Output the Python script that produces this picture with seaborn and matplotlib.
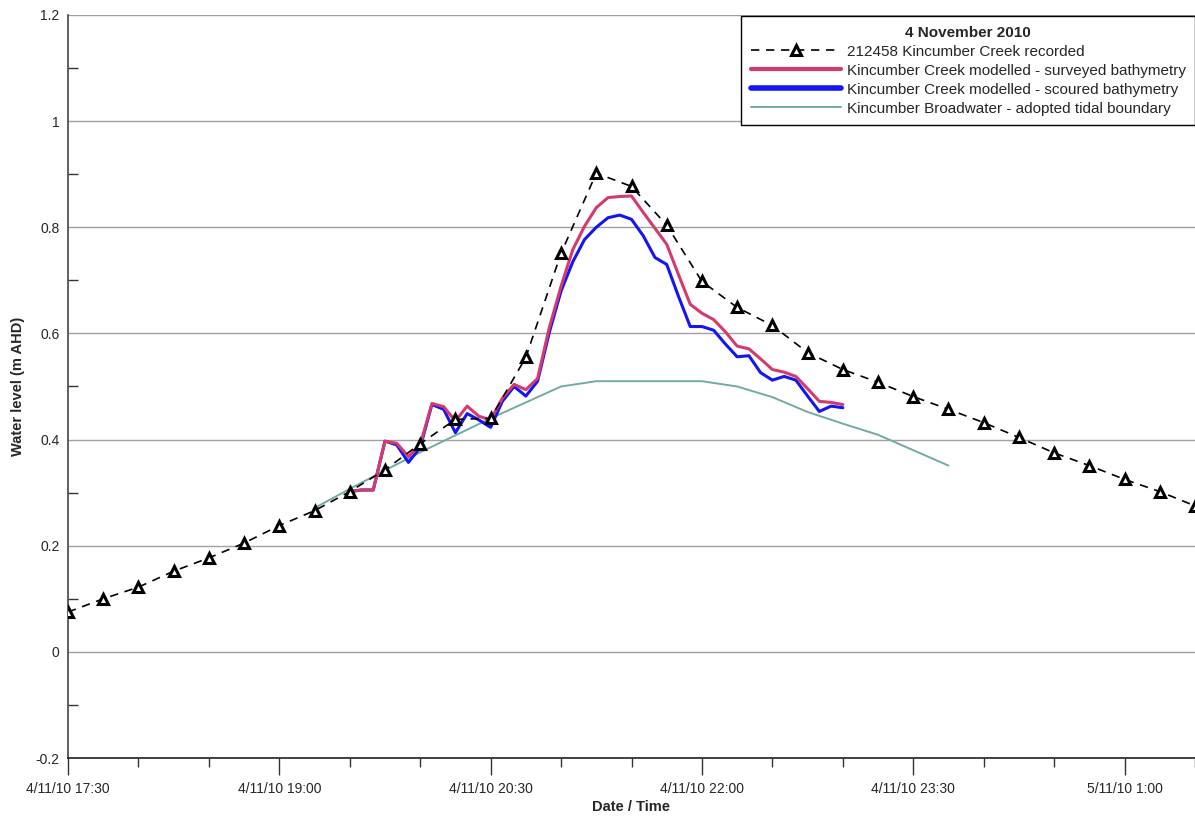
import numpy as np
import pandas as pd
import matplotlib
matplotlib.use("Agg")
import matplotlib.pyplot as plt
import matplotlib.dates as mdates
from matplotlib.ticker import FuncFormatter, MultipleLocator, FixedLocator
import seaborn as sns

# ---------------- data ----------------
recorded_start = "2010-11-04 17:30"
recorded_level = [0.075, 0.100, 0.122, 0.152, 0.177, 0.205, 0.238, 0.266, 0.302, 0.343,
                  0.392, 0.438, 0.440, 0.555, 0.751, 0.902, 0.877, 0.804, 0.698, 0.649,
                  0.615, 0.564, 0.532, 0.508, 0.481, 0.457, 0.432, 0.404, 0.375, 0.351,
                  0.325, 0.302, 0.275]

model_start = "2010-11-04 19:30"
surveyed_level = [0.302, 0.305, 0.305, 0.397, 0.393, 0.368, 0.390, 0.468, 0.462, 0.435,
                  0.463, 0.444, 0.437, 0.478, 0.504, 0.494, 0.515, 0.611, 0.689, 0.758,
                  0.802, 0.837, 0.856, 0.858, 0.859, 0.828, 0.798, 0.768, 0.711, 0.655,
                  0.638, 0.626, 0.603, 0.576, 0.571, 0.552, 0.532, 0.527, 0.519, 0.496,
                  0.472, 0.470, 0.466]
scoured_level = [0.302, 0.305, 0.305, 0.397, 0.390, 0.357, 0.385, 0.466, 0.457, 0.413,
                 0.449, 0.437, 0.423, 0.472, 0.500, 0.482, 0.510, 0.602, 0.680, 0.735,
                 0.777, 0.800, 0.818, 0.823, 0.815, 0.784, 0.743, 0.730, 0.670, 0.613,
                 0.613, 0.606, 0.580, 0.556, 0.558, 0.526, 0.512, 0.519, 0.512, 0.482,
                 0.453, 0.463, 0.460]

tidal_start = "2010-11-04 19:15"
tidal_level = [0.271, 0.307, 0.342, 0.376, 0.408, 0.440, 0.470, 0.500, 0.510, 0.510,
               0.510, 0.510, 0.500, 0.480, 0.452, 0.430, 0.409, 0.380, 0.351]

major_ticks = ["2010-11-04 17:30", "2010-11-04 19:00", "2010-11-04 20:30",
               "2010-11-04 22:00", "2010-11-04 23:30", "2010-11-05 01:00"]
x_min, x_max = "2010-11-04 17:30", "2010-11-05 01:30"

labels = ["212458 Kincumber Creek recorded",
          "Kincumber Creek modelled - surveyed bathymetry",
          "Kincumber Creek modelled - scoured bathymetry",
          "Kincumber Broadwater - adopted tidal boundary"]

rec_t = pd.date_range(recorded_start, periods=len(recorded_level), freq="15min")
mod_t = pd.date_range(model_start, periods=len(surveyed_level), freq="5min")
tid_t = pd.date_range(tidal_start, periods=len(tidal_level), freq="15min")

C_TIDE, C_SCOUR, C_SURV = "#72AAA4", "#1414F5", "#D43A6B"

# ---------------- plot ----------------
sns.set_theme(style="white")
plt.rcParams["font.family"] = ["Liberation Sans", "DejaVu Sans"]

fig = plt.figure(figsize=(11.95, 8.16), dpi=100)
ax = fig.add_axes([68 / 1195, 58 / 816, 1127 / 1195, 743 / 816])

for yv in np.arange(-0.2, 1.21, 0.2):
    ax.axhline(yv, color="#A0A0A0", lw=1.0, zorder=0)

sns.lineplot(x=tid_t, y=tidal_level, ax=ax, color=C_TIDE, lw=1.4,
             label=labels[3], zorder=2)
sns.lineplot(x=mod_t, y=scoured_level, ax=ax, color=C_SCOUR, lw=2.2,
             label=labels[2], zorder=3)
sns.lineplot(x=mod_t, y=surveyed_level, ax=ax, color=C_SURV, lw=2.2,
             label=labels[1], zorder=4)
sns.lineplot(x=rec_t, y=recorded_level, ax=ax, color="black", lw=1.2,
             ls=(0, (5, 4)), marker="^", markersize=7.5, markerfacecolor="white",
             markeredgecolor="black", markeredgewidth=2.2,
             label=labels[0], zorder=5)

ax.set_xlim(pd.Timestamp(x_min), pd.Timestamp(x_max))
ax.set_ylim(-0.2, 1.2)

ax.xaxis.set_major_locator(FixedLocator(mdates.date2num(pd.to_datetime(major_ticks))))
ax.xaxis.set_minor_locator(FixedLocator(mdates.date2num(
    pd.date_range(x_min, x_max, freq="30min"))))


def fmt_date(v, pos=None):
    d = mdates.num2date(v)
    return f"{d.day}/{d.month}/{d:%y} {d.hour}:{d:%M}"


ax.xaxis.set_major_formatter(FuncFormatter(fmt_date))
ax.yaxis.set_major_locator(MultipleLocator(0.2))
ax.yaxis.set_minor_locator(FixedLocator(np.arange(-0.1, 1.2, 0.2)))
ax.yaxis.set_major_formatter(FuncFormatter(lambda v, p: f"{round(v, 1):g}"))

ax.tick_params(axis="x", which="major", direction="out", length=12, width=1,
               color="#333333", labelsize=10, pad=5, bottom=True)
ax.tick_params(axis="x", which="minor", direction="out", length=6.5, width=1,
               color="#333333", bottom=True)
ax.tick_params(axis="y", which="major", length=0, labelsize=10, pad=6, left=True)
ax.tick_params(axis="y", which="minor", direction="in", length=7, width=1,
               color="#333333", left=True)

for s in ["top", "right"]:
    ax.spines[s].set_visible(False)
ax.spines["left"].set_color("#444444")
ax.spines["bottom"].set_color("#222222")
ax.spines["left"].set_linewidth(1.2)
ax.spines["bottom"].set_linewidth(1.2)

ax.set_xlabel("Date / Time", fontsize=10.5, fontweight="bold", labelpad=3)
ax.set_ylabel("Water level (m AHD)", fontsize=10.5, fontweight="bold", labelpad=8)

handles, labs = ax.get_legend_handles_labels()
order = [labs.index(l) for l in labels]
leg = ax.legend([handles[i] for i in order], [labs[i] for i in order],
                title="4 November 2010", loc="upper right",
                bbox_to_anchor=(1.0, 0.998), fontsize=11, title_fontsize=11,
                frameon=True, fancybox=False, edgecolor="black",
                handlelength=5.9, handletextpad=0.4, borderpad=0.6,
                labelspacing=0.33, borderaxespad=0.0)
leg.get_title().set_fontweight("bold")
leg.get_frame().set_linewidth(1.0)
leg.get_frame().set_alpha(1.0)
for line in leg.get_lines():
    if line.get_color() == C_SCOUR:
        line.set_linewidth(4)
    elif line.get_color() == C_SURV:
        line.set_linewidth(3)

fig.savefig("out.png", dpi=100)
